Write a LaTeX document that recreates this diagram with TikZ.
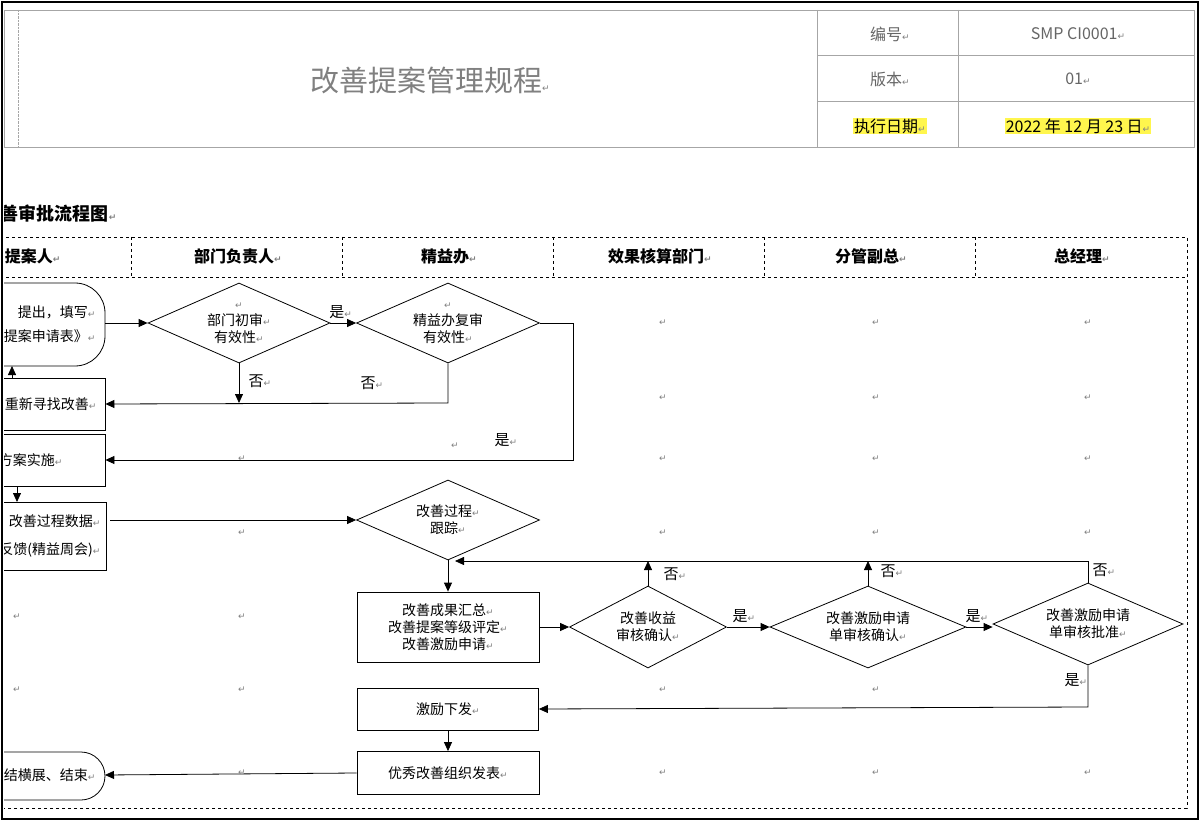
\documentclass[tikz,border=0pt]{standalone}
\usepackage{fontspec}
\setmainfont{Noto Sans CJK SC}
\newfontfamily\djvfont{DejaVu Sans}
\usetikzlibrary{shapes.geometric,arrows.meta}
\newcommand{\rt}{{\djvfont\color{gray}\fontsize{9}{9}\selectfont ↵}}
\tikzset{
 box/.style={draw,thick,minimum width=#1,minimum height=42,align=center,font=\fontsize{14}{17}\selectfont},
 dia/.style={draw,thick,diamond,aspect=2.2,inner sep=0pt,align=center,font=\fontsize{14}{17}\selectfont},
 arr/.style={thick,-{Triangle[length=9,width=8]}},
 lbl/.style={font=\fontsize{15}{16}\selectfont},
 hd/.style={font=\bfseries\fontsize{16}{18}\selectfont},
 gl/.style={gray!70,thin},
 lt/.style={anchor=east,font=\fontsize{14}{17}\selectfont},
}
\begin{document}
\begin{tikzpicture}[x=1pt,y=-1pt]
\useasboundingbox (0,0) rectangle (1200,821);
\fill[white] (0,0) rectangle (1200,821);
\begin{scope}
\clip (4,4) rectangle (1197,818);
% header table
\draw[gl] (4,10) rectangle (1194,147);
\draw[gl,densely dotted] (18,10) -- (18,147);
\draw[gl] (817,10) -- (817,147) (958,10) -- (958,147) (817,55) -- (1194,55) (817,101) -- (1194,101);
\node[gray,font=\fontsize{29}{30}\selectfont] at (430,80) {改善提案管理规程\rt};
\node[gray!80!black,font=\fontsize{16}{18}\selectfont] at (890,34) {编号\rt};
\node[gray!80!black,font=\fontsize{16}{18}\selectfont] at (1078,34) {SMP CI0001\rt};
\node[gray!80!black,font=\fontsize{16}{18}\selectfont] at (890,79) {版本\rt};
\node[gray!80!black,font=\fontsize{16}{18}\selectfont] at (1078,79) {01\rt};
\node[fill=yellow!70,inner sep=1pt,font=\fontsize{16}{18}\selectfont] at (890,126) {执行日期\rt};
\node[fill=yellow!70,inner sep=1pt,font=\fontsize{16}{18}\selectfont] at (1078,126) {2022 年 12 月 23 日\rt};
% section title
\node[anchor=east,font=\bfseries\fontsize{18}{20}\selectfont] at (120,214) {改善审批流程图\rt};
% lanes
\draw[dashed] (0,237) -- (1187,237) -- (1187,808) -- (0,808) (0,277) -- (1187,277);
\foreach \x in {131,342,553,764,975} \draw[dashed] (\x,237) -- (\x,277);
\node[hd,anchor=east] at (64,256) {提案人\rt};
\node[hd] at (238,256) {部门负责人\rt};
\node[hd] at (449,256) {精益办\rt};
\node[hd] at (660,256) {效果核算部门\rt};
\node[hd] at (871,256) {分管副总\rt};
\node[hd] at (1082,256) {总经理\rt};
% nodes
\draw[thick,rounded corners=30] (-60,283) rectangle (105,366);
\node[lt,align=right,font=\fontsize{14}{24}\selectfont] (st) at (99,324) {提出，填写\rt\\《改善提案申请表》\rt};
\coordinate (stE) at (105,323);
\node[box=150,minimum height=52] (re) at (30,404) {};
\node[lt] at (100,404) {重新寻找改善\rt};
\node[box=150,minimum height=52] (im) at (30,460) {};
\node[lt] at (66,460) {方案实施\rt};
\node[box=152,minimum height=68] (pd) at (30,536) {};
\node[lt,align=right,font=\fontsize{14}{28}\selectfont] at (104,536) {改善过程数据\rt\\反馈(精益周会)\rt};
\draw[thick,rounded corners=24] (-60,752) rectangle (105,800);
\node[lt] at (99,775) {总结横展、结束\rt};
\coordinate (enE) at (105,775);

\node[dia,minimum width=182,minimum height=80] (d1) at (239,323) {\rt\\部门初审\rt\\有效性\rt};
\node[dia,minimum width=183,minimum height=80] (d2) at (448,323) {\rt\\精益办复审\\有效性\rt};
\node[dia,minimum width=183,minimum height=80] (d3) at (448,520) {改善过程\rt\\跟踪\rt};
\node[box=182,minimum height=70] (b1) at (448,627) {改善成果汇总\rt\\改善提案等级评定\rt\\改善激励申请\rt};
\node[dia,minimum width=157,minimum height=82] (d4) at (648,627) {改善收益\\审核确认\rt};
\node[dia,minimum width=196,minimum height=82] (d5) at (868,627) {改善激励申请\\单审核确认\rt};
\node[dia,minimum width=190,minimum height=82] (d6) at (1088,624) {改善激励申请\\单审核批准\rt};
\node[box=181] (b2) at (448,709) {激励下发\rt};
\node[box=182,minimum height=43] (b3) at (448,773) {优秀改善组织发表\rt};

% arrows
\draw[arr] (stE) -- (d1.west);
\draw[arr] (d1.east) -- (d2.west) node[lbl,pos=0.4,above=1pt] {是\rt};
\draw[arr] (d1.south) -- (239,403) node[lbl,pos=0.45,right=6pt] {否\rt};
\draw[arr] (d2.south) -- (448,403) -- (re.east);
\node[lbl] at (372,383) {否\rt};
\draw[arr] (12,378) -- (12,366);
\draw[arr] (d2.east) -- (573,323) -- (573,460) -- (im.east);
\node[lbl] at (506,440) {是\rt};
\draw[arr] (17,486) -- (17,502);
\draw[arr] (110,520) -- (d3.west);
\draw[arr] (d3.south) -- (b1.north);
\draw[arr] (b1.east) -- (d4.west);
\draw[arr] (d4.north) -- (648,561);
\node[lbl] at (675,574) {否\rt};
\draw[arr] (d5.north) -- (868,561);
\node[lbl] at (892,571) {否\rt};
\draw[arr] (d6.north) -- (1088,561) -- (455,561);
\node[lbl] at (1104,570) {否\rt};
\draw[arr] (d4.east) -- (d5.west) node[lbl,pos=0.4,above=1pt] {是\rt};
\draw[arr] (d5.east) -- (d5.east -| d6.west) node[lbl,pos=0.4,above=1pt] {是\rt};
\draw[arr] (d6.south) -- (1088,707) -- (b2.east);
\node[lbl] at (1076,680) {是\rt};
\draw[arr] (b2.south) -- (b3.north);
\draw[arr] (b3.west) -- (enE);
% stray paragraph marks
\foreach \x in {663,876,1088} \foreach \y in {323,398,459,533} \node at (\x,\y) {\rt};
\foreach \y in {459,533,617,690,773} \node at (242,\y) {\rt};
\foreach \y in {617,690} \node at (17,\y) {\rt};
\foreach \x in {663,876} \foreach \y in {690,773} \node at (\x,\y) {\rt};
\node at (1088,773) {\rt};
\node at (455,446) {\rt};
\end{scope}
\draw[line width=2.5pt] (2,2) rectangle (1198,819);
\end{tikzpicture}
\end{document}
